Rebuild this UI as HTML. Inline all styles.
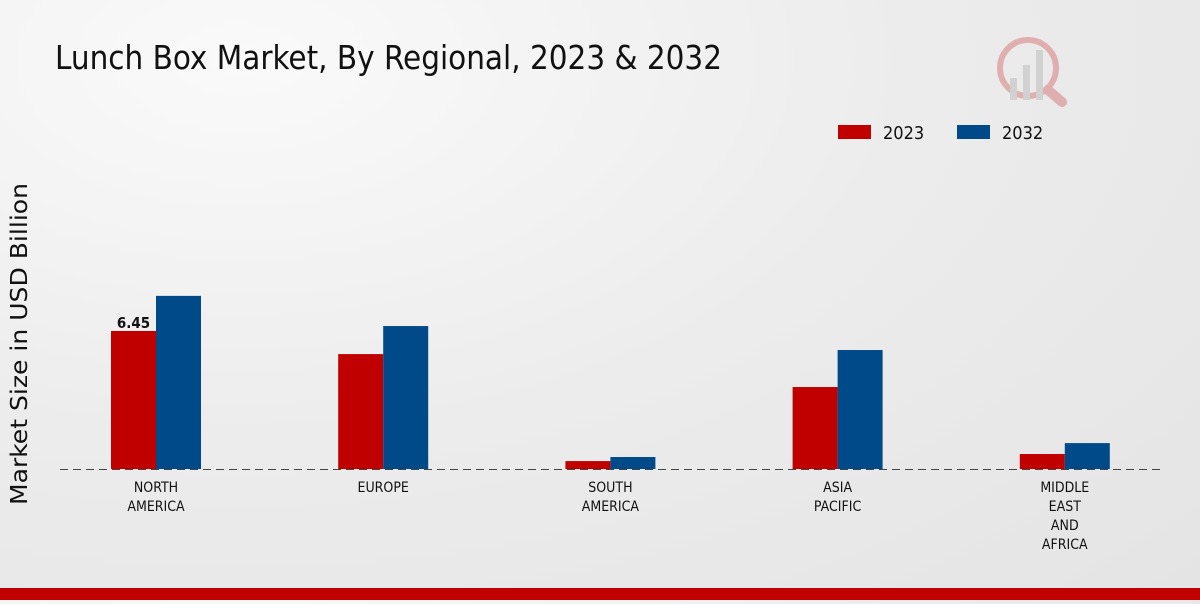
<!DOCTYPE html>
<html><head><meta charset="utf-8">
<style>
html,body{margin:0;padding:0;}
body{width:1200px;height:600px;overflow:hidden;background:radial-gradient(ellipse at 20% 10%,#fafafa 0%,#ececec 50%,#e4e4e4 100%);font-family:"DejaVu Sans Condensed","Liberation Sans Narrow","Liberation Sans",sans-serif;}
svg text{font-family:"DejaVu Sans Condensed","Liberation Sans Narrow","Liberation Sans",sans-serif;}
</style></head>
<body>
<svg width="1200" height="600" viewBox="0 0 1200 600">
<text x="55" y="69" font-size="33" fill="#111" textLength="667" lengthAdjust="spacingAndGlyphs">Lunch Box Market, By Regional, 2023 &amp; 2032</text>
<text transform="translate(27,344) rotate(-90)" text-anchor="middle" font-size="23" fill="#111" textLength="322" lengthAdjust="spacingAndGlyphs">Market Size in USD Billion</text>
<g>
<rect x="838" y="125" width="33" height="14" fill="#c00000"/>
<text x="883" y="139" font-size="18" fill="#111">2023</text>
<rect x="957" y="125" width="33" height="14" fill="#004a8a"/>
<text x="1002" y="139" font-size="18" fill="#111">2032</text>
</g>
<g opacity="0.25">
<circle cx="1028" cy="68" r="28" fill="none" stroke="#c00000" stroke-width="6"/>
<rect x="1010" y="78" width="7" height="22" fill="#888"/><rect x="1023" y="65" width="7" height="35" fill="#888"/><rect x="1036" y="50" width="7" height="50" fill="#888"/>
<line x1="1048" y1="90" x2="1062" y2="102" stroke="#c00000" stroke-width="10" stroke-linecap="round"/>
</g>
<g id="bars"></g>
<line x1="60" y1="469.5" x2="1160" y2="469.5" stroke="#444" stroke-width="1" stroke-dasharray="8,5"/>
<g id="xlabels"></g>
<rect x="0" y="588" width="1200" height="12" fill="#c00000"/>
</svg>
<script>
const categories=[["NORTH","AMERICA"],["EUROPE"],["SOUTH","AMERICA"],["ASIA","PACIFIC"],["MIDDLE","EAST","AND","AFRICA"]];
const values2023=[6.45,5.37,0.37,3.83,0.70];
const values2032=[8.09,6.68,0.56,5.56,1.21];
const ns="http://www.w3.org/2000/svg";
const baseY=469, pxPerUnit=21.4, x0=156, step=227.2, bw=45;
const yScale=v=>baseY-v*pxPerUnit;
const xCenter=i=>x0+i*step;
const bars=document.getElementById('bars');
const xl=document.getElementById('xlabels');
function bar(x,v,color,name){
  const r=document.createElementNS(ns,'rect');
  r.setAttribute('x',x);r.setAttribute('y',yScale(v));
  r.setAttribute('width',bw);r.setAttribute('height',baseY-yScale(v));
  r.setAttribute('fill',color);
  
  
  bars.appendChild(r);
}
categories.forEach((c,i)=>{
  const cx=xCenter(i);
  bar(cx-bw,values2023[i],'#c00000','bar-2023-'+i);
  bar(cx,values2032[i],'#004a8a','bar-2032-'+i);
  c.forEach((ln,j)=>{
    const t=document.createElementNS(ns,'text');
    t.setAttribute('x',cx);t.setAttribute('y',492+j*19);
    t.setAttribute('text-anchor','middle');t.setAttribute('font-size','14');t.setAttribute('fill','#111');
    t.textContent=ln;
    
    
    xl.appendChild(t);
  });
});
const lab=document.createElementNS(ns,'text');
lab.setAttribute('x',xCenter(0)-bw/2);lab.setAttribute('y',yScale(values2023[0])-3);
lab.setAttribute('text-anchor','middle');lab.setAttribute('font-size','15');lab.setAttribute('font-weight','bold');lab.setAttribute('fill','#111');
lab.textContent=values2023[0].toFixed(2);


bars.appendChild(lab);
</script>
</body></html>
